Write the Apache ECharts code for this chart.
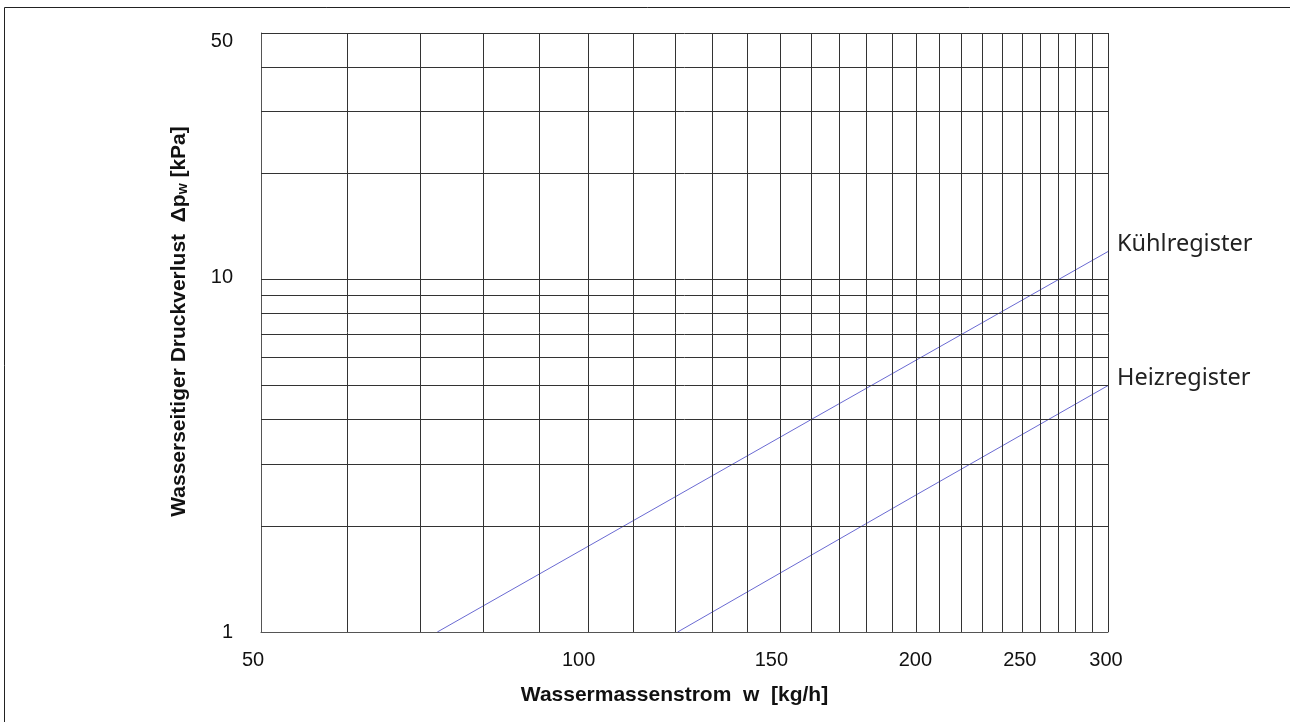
<!DOCTYPE html>
<html>
<head>
<meta charset="utf-8">
<script src="https://cdn.jsdelivr.net/npm/echarts@6/dist/echarts.min.js"></script>
<style>
html,body{margin:0;padding:0;background:#fff;}
#chart{width:1290px;height:722px;}
</style>
</head>
<body>
<div id="chart"></div>
<script>
// ---- data ----
const xRange = [50, 300];
const yRange = [1, 50];
const xGridValues = [60, 70, 80, 90, 100, 110, 120, 130, 140, 150, 160, 170, 180, 190, 200,
                     210, 220, 230, 240, 250, 260, 270, 280, 290, 300];
const yGridValues = [2, 3, 4, 5, 6, 7, 8, 9, 10, 20, 30, 40, 50];
const xTickLabels = [50, 100, 150, 200, 250, 300];
const yTickLabels = [1, 10, 50];
const kuehlX = [72.6, 160, 300];
const kuehlY = [1.0, 4.0, 12.0];
const heizX = [120.7, 200, 300];
const heizY = [1.0, 2.45, 5.0];
const seriesNames = ['Kühlregister', 'Heizregister'];

// ---- styling helpers ----
const xLabelShift = {50: -8, 100: -10, 150: -9, 200: -1, 250: -2, 300: -2};
const yLabelShift = {1: 0, 10: -2, 50: 8};
const gridLineStyle = {color: '#333', width: 1, type: 'solid'};
const tickFont = {fontFamily: 'Liberation Sans, Arial, sans-serif', fontSize: 20, color: '#111'};
const titleFont = {fontFamily: 'Liberation Sans, Arial, sans-serif', fontWeight: 'bold', fontSize: 21, color: '#111'};

const xLines = [];
xTickLabels.concat(xGridValues).forEach(v => {
  if (xLines.some(d => d.xAxis === v)) return;
  const item = {xAxis: v};
  if (xTickLabels.includes(v)) {
    item.label = Object.assign({show: true, formatter: String(v), position: 'start',
      distance: 18, offset: [xLabelShift[v] || 0, 0]}, tickFont);
  }
  if (v === 50) item.lineStyle = {color: '#555'};
  xLines.push(item);
});
const yLines = [];
yTickLabels.concat(yGridValues).forEach(v => {
  if (yLines.some(d => d.yAxis === v)) return;
  const item = {yAxis: v};
  if (yTickLabels.includes(v)) {
    item.label = Object.assign({show: true, formatter: String(v), position: 'start',
      distance: 28, offset: [0, yLabelShift[v] || 0]}, tickFont);
  }
  if (v === 1) item.lineStyle = {color: '#555'};
  yLines.push(item);
});

const pairs = (xs, ys) => xs.map((x, i) => [x, ys[i]]);
const lineColor = '#6a6ad2';
const endLabel = {
  show: true, formatter: p => p.seriesName, distance: 9, offset: [0, -7],
  fontFamily: 'Noto Sans', fontSize: 23.5, color: '#222'
};

const chart = echarts.init(document.getElementById('chart'), null, {renderer: 'canvas'});
chart.setOption({
  animation: false,
  backgroundColor: '#fff',
  graphic: [{
    type: 'rect', silent: true, z: 0,
    shape: {x: 4.5, y: 7.5, width: 1300, height: 800},
    style: {fill: 'none', stroke: '#222', lineWidth: 1}
  }],
  grid: {left: 261, top: 33, right: 182, bottom: 90},
  xAxis: {
    type: 'log', logBase: 10, min: xRange[0], max: xRange[1],
    name: 'Wassermassenstrom  w  [kg/h]',
    nameLocation: 'middle', nameGap: 53,
    nameTextStyle: Object.assign({padding: [0, 20, 0, 0]}, titleFont),
    axisLine: {show: true, lineStyle: {color: '#555', width: 1}},
    axisTick: {show: false}, axisLabel: {show: false}, splitLine: {show: false}
  },
  yAxis: {
    type: 'log', logBase: 10, min: yRange[0], max: yRange[1],
    name: 'Wasserseitiger Druckverlust  Δp{sub|w} [kPa]',
    nameLocation: 'middle', nameGap: 71, nameRotate: 90,
    nameTextStyle: Object.assign({
      padding: [0, 0, 0, 22],
      rich: {sub: {fontFamily: 'Liberation Sans, Arial, sans-serif', fontWeight: 'bold', fontSize: 14, color: '#111', verticalAlign: 'bottom', padding: [8, 0, 0, 0]}}
    }, titleFont),
    axisLine: {show: true, lineStyle: {color: '#555', width: 1}},
    axisTick: {show: false}, axisLabel: {show: false}, splitLine: {show: false}
  },
  series: [
    {
      type: 'line', name: 'grid', data: [], z: 1, silent: true,
      markLine: {
        silent: true, symbol: 'none', animation: false,
        lineStyle: gridLineStyle, label: {show: false},
        emphasis: {disabled: true},
        data: xLines.concat(yLines)
      }
    },
    {
      type: 'line', name: seriesNames[0], data: pairs(kuehlX, kuehlY), z: 3,
      showSymbol: false, symbol: 'none', lineStyle: {color: lineColor, width: 1},
      endLabel: endLabel
    },
    {
      type: 'line', name: seriesNames[1], data: pairs(heizX, heizY), z: 3,
      showSymbol: false, symbol: 'none', lineStyle: {color: lineColor, width: 1},
      endLabel: endLabel
    }
  ]
});
</script>
</body>
</html>
